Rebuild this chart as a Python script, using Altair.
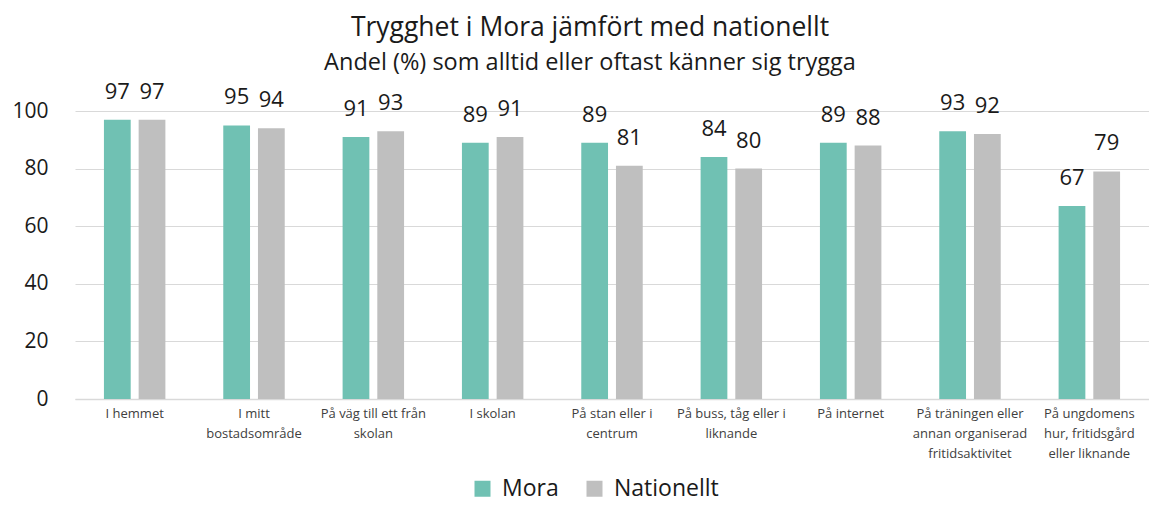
import altair as alt
import pandas as pd

categories = [
    "I hemmet",
    "I mitt|bostadsområde",
    "På väg till ett från|skolan",
    "I skolan",
    "På stan eller i|centrum",
    "På buss, tåg eller i|liknande",
    "På internet",
    "På träningen eller|annan organiserad|fritidsaktivitet",
    "På ungdomens|hur, fritidsgård|eller liknande",
]
series = ["Mora", "Nationellt"]
mora = [97, 95, 91, 89, 89, 84, 89, 93, 67]
nationellt = [97, 94, 93, 91, 81, 80, 88, 92, 79]
colors = ["#70C1B3", "#BFBFBF"]
y_ticks = [0, 20, 40, 60, 80, 100]

rows = []
for c, m, n in zip(categories, mora, nationellt):
    rows.append({"kategori": c, "serie": "Mora", "andel": m})
    rows.append({"kategori": c, "serie": "Nationellt", "andel": n})
df = pd.DataFrame(rows)

x_enc = alt.X(
    "kategori:N",
    sort=categories,
    scale=alt.Scale(paddingInner=0.485, paddingOuter=0.2425),
    axis=alt.Axis(
        title=None,
        labelAngle=0,
        labelExpr="split(datum.label, '|')",
        labelFontSize=13,
        labelLineHeight=20,
        labelColor="#404040",
        labelPadding=8,
        labelBaseline="top",
        ticks=False,
        domainColor="#d9d9d9",
        domainWidth=1.5,
        grid=False,
        labelLimit=200,
    ),
)
xoff_enc = alt.XOffset("serie:N", sort=series, scale=alt.Scale(paddingInner=0.229))
y_enc = alt.Y(
    "andel:Q",
    scale=alt.Scale(domain=[0, 100], nice=False),
    axis=alt.Axis(
        title=None,
        values=y_ticks,
        domain=False,
        ticks=False,
        labelFontSize=21,
        labelColor="#1a1a1a",
        labelPadding=27,
        gridColor="#d9d9d9",
        gridWidth=1,
    ),
)

bars = alt.Chart(df).mark_bar().encode(
    x=x_enc,
    xOffset=xoff_enc,
    y=y_enc,
    color=alt.Color(
        "serie:N",
        sort=series,
        scale=alt.Scale(domain=series, range=colors),
        legend=alt.Legend(
            title=None,
            orient="none",
            legendX=396,
            legendY=366,
            direction="horizontal",
            symbolType="square",
            symbolSize=256,
            symbolStrokeWidth=0,
            labelFontSize=23,
            labelColor="#1a1a1a",
            labelOffset=8,
            columnPadding=24,
        ),
    ),
)

labels = alt.Chart(df).mark_text(
    baseline="alphabetic", dy=-21, fontSize=22, color="#1a1a1a"
).encode(
    x=alt.X("kategori:N", sort=categories),
    xOffset=alt.XOffset("serie:N", sort=series),
    y=alt.Y("andel:Q"),
    text=alt.Text("andel:Q"),
)

chart = (
    alt.layer(bars, labels)
    .properties(
        width=1074,
        height=288,
        autosize=alt.AutoSizeParams(type="none"),
        padding={"left": 67, "top": 103, "right": 0, "bottom": 104},
        title=alt.TitleParams(
            text="Trygghet i Mora jämfört med nationellt",
            subtitle="Andel (%) som alltid eller oftast känner sig trygga",
            anchor="middle",
            frame="group",
            dx=-22,
            fontSize=26.5,
            fontWeight="normal",
            subtitleFontSize=23.5,
            subtitlePadding=10,
            color="#1a1a1a",
            subtitleColor="#1a1a1a",
            offset=6,
        ),
    )
    .configure(font="Open Sans")
    .configure_view(stroke=None)
)

chart.save("out.html", embed_options={"renderer": "svg", "actions": False})
